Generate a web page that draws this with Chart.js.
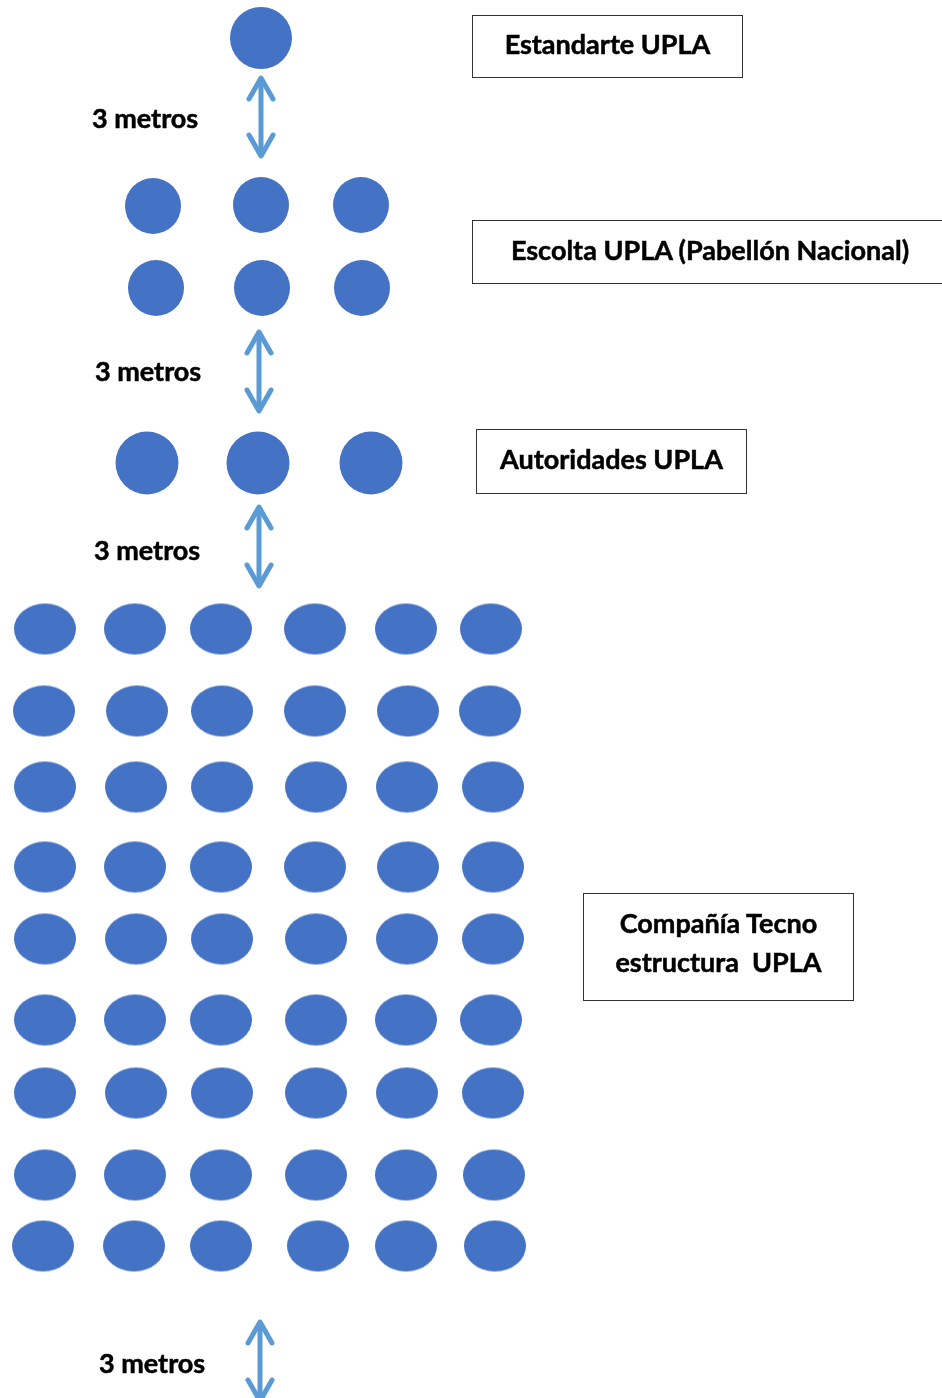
<!DOCTYPE html>
<html>
<head>
<meta charset="utf-8">
<script src="https://cdn.jsdelivr.net/npm/chart.js@4/dist/chart.umd.min.js"></script>
<style>
  body { margin: 0; background: #fff; overflow: hidden; }
  .wrap { position: relative; width: 942px; height: 1398px; overflow: hidden; }
  canvas { position: absolute; left: 0; top: 0; }
  .lbl, .box { font-family: Lato, "Open Sans", sans-serif; font-weight: bold; font-size: 27px; color: #000; white-space: nowrap; -webkit-text-stroke: 0.5px #000; }
  .lbl { position: absolute; line-height: 30px; }
  .box { position: absolute; border: 1.3px solid #333; box-sizing: border-box; display: flex; align-items: center; justify-content: center; text-align: center; padding-bottom: 6px; }
</style>
</head>
<body>
<div class="wrap">
  <canvas id="myChart" width="942" height="1398"></canvas>
  <div class="lbl" style="left:92px; top:103px;">3 metros</div>
  <div class="lbl" style="left:95px; top:356px;">3 metros</div>
  <div class="lbl" style="left:94px; top:535px;">3 metros</div>
  <div class="lbl" style="left:99px; top:1348px;">3 metros</div>
  <div class="box" style="left:472px; top:15px; width:271px; height:63px;">Estandarte UPLA</div>
  <div class="box" style="left:472px; top:220px; width:476px; height:64px;">Escolta UPLA (Pabellón Nacional)</div>
  <div class="box" style="left:476px; top:429px; width:271px; height:65px;">Autoridades UPLA</div>
  <div class="box" style="left:583px; top:893px; width:271px; height:108px; line-height:39px; padding-bottom:10px;">Compañía Tecno<br>estructura&nbsp;&nbsp;UPLA</div>
</div>
<script>
// diagram positions (same units as the page, y grows downward)
const standardX = [261];
const standardY = [38];

const escortX = [153, 261, 361, 156, 262, 362];
const escortY = [206, 205, 205, 288, 288, 288];

const authoritiesX = [147, 258, 371];
const authoritiesY = [463, 463, 463];

const companyRowsY = [629, 711, 787, 867, 939, 1020, 1093, 1175, 1246];
const companyColsX = [
  [45, 135, 221, 315, 406, 491],
  [44, 137, 222, 315, 408, 490],
  [45, 136, 222, 316, 407, 493],
  [45, 135, 221, 315, 408, 493],
  [45, 136, 222, 316, 407, 493],
  [45, 135, 221, 316, 406, 491],
  [45, 136, 222, 316, 407, 493],
  [45, 135, 221, 316, 406, 494],
  [43, 134, 221, 318, 406, 495]
];

// double arrows: x, top tip, bottom tip
const arrowX = [261, 259, 259, 260];
const arrowTop = [78, 332, 507, 1322];
const arrowBottom = [156, 411, 586, 1401];

const blue = '#4472C4';
const arrowBlue = '#5B9BD5';

function toPoints(xs, ys) {
  return xs.map((x, i) => ({ x: x, y: ys[i] }));
}

// ellipse marker for the company
const ellipse = document.createElement('canvas');
ellipse.width = 64;
ellipse.height = 53;
(function () {
  const c = ellipse.getContext('2d');
  c.fillStyle = blue;
  c.beginPath();
  c.ellipse(32, 26.5, 31, 25.5, 0, 0, Math.PI * 2);
  c.fill();
})();

// arrow head, tip at the centre of the canvas
const chevron = document.createElement('canvas');
chevron.width = 34;
chevron.height = 60;
(function () {
  const c = chevron.getContext('2d');
  c.strokeStyle = arrowBlue;
  c.lineWidth = 5;
  c.lineCap = 'round';
  c.lineJoin = 'round';
  c.beginPath();
  c.moveTo(17 - 12, 30 + 21);
  c.lineTo(17, 30);
  c.lineTo(17 + 12, 30 + 21);
  c.stroke();
})();

const companyPoints = [];
companyRowsY.forEach((y, r) => {
  companyColsX[r].forEach(x => companyPoints.push({ x: x, y: y }));
});

const arrowSets = arrowX.map((x, i) => ({
  data: [{ x: x, y: arrowTop[i] }, { x: x, y: arrowBottom[i] }],
  showLine: true,
  borderColor: arrowBlue,
  borderWidth: 5,
  pointStyle: chevron,
  pointRadius: 10,
  pointRotation: [0, 180],
  clip: false
}));

const ctx = document.getElementById('myChart');
new Chart(ctx, {
  type: 'scatter',
  data: {
    datasets: [
      {
        data: toPoints(standardX, standardY),
        pointStyle: 'circle',
        pointRadius: 31,
        backgroundColor: blue,
        borderWidth: 0
      },
      {
        data: toPoints(escortX, escortY),
        pointStyle: 'circle',
        pointRadius: 28,
        backgroundColor: blue,
        borderWidth: 0
      },
      {
        data: toPoints(authoritiesX, authoritiesY),
        pointStyle: 'circle',
        pointRadius: 31.5,
        backgroundColor: blue,
        borderWidth: 0
      },
      {
        data: companyPoints,
        pointStyle: ellipse,
        pointRadius: 26,
        borderWidth: 0
      },
      ...arrowSets
    ]
  },
  options: {
    responsive: false,
    animation: false,
    events: [],
    layout: { padding: 0, autoPadding: false },
    plugins: {
      legend: { display: false },
      tooltip: { enabled: false }
    },
    scales: {
      x: { type: 'linear', min: 0, max: 942, display: false },
      y: { type: 'linear', min: 0, max: 1398, reverse: true, display: false }
    }
  }
});
</script>
</body>
</html>
